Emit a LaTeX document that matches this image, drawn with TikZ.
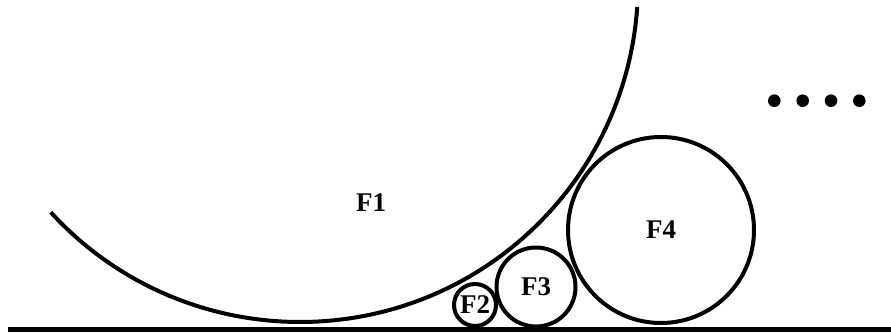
\documentclass[tikz,border=0pt]{standalone}
\usepackage{fontspec}
\setmainfont{Liberation Serif}
\usepackage{tikz}
\usetikzlibrary{positioning}

\tikzset{
    circ/.style={draw, circle, line width=4pt, inner sep=0pt,
        font=\fontsize{27}{31}\selectfont\bfseries}
}

\begin{document}
\begin{tikzpicture}[x=1pt, y=1pt]
    \useasboundingbox (0, 0) rectangle (891, 332);

    % --- Ground line ---
    \coordinate (gL) at (8, 2.5);
    \coordinate (gR) at (891, 2.5);
    \draw[line width=5.5pt] (gL) -- (gR);

    % --- Big arc (F1) ---
    \coordinate (c1) at (300, 348);
    \draw[line width=4pt] (c1) ++(222.5:338) arc[start angle=222.5, end angle=356.1, radius=338];
    \node[font=\fontsize{27}{31}\selectfont\bfseries] (F1) at (371, 129) {F1};

    % --- Circles F2, F3, F4 ---
    \node[circ, minimum size=42pt] (F2) at (475, 27) {F2};
    \node[circ, minimum size=79pt] (F3) at (536, 45) {F3};
    \node[circ, minimum size=186pt] (F4) at (661, 102) {F4};

    % --- Dots ---
    \foreach \x/\name in {774.3/d1, 802.7/d2, 831/d3, 859.3/d4} {
        \node[circle, fill, inner sep=0pt, minimum size=12.6pt] (\name) at (\x, 231.3) {};
    }

\end{tikzpicture}
\end{document}
